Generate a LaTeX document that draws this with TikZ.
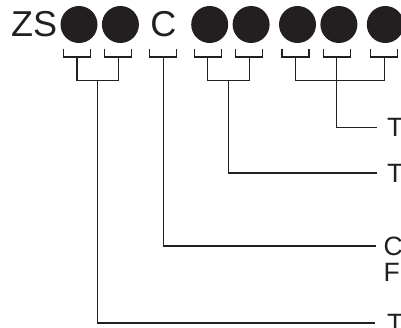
\documentclass[tikz,border=0pt]{standalone}
\usepackage{fontspec}
\setmainfont{Liberation Sans}
\usetikzlibrary{positioning, calc}
\definecolor{ink}{HTML}{231F20}

\begin{document}
\begin{tikzpicture}[
        x=1pt, y=-1pt,
        node distance=4pt,
        dot/.style={circle, fill=ink, inner sep=0pt, minimum size=37pt},
        head/.style={inner sep=0pt, text=ink, font=\fontsize{36}{40}\selectfont},
        lbl/.style={inner sep=0pt, text=ink, anchor=west, font=\fontsize{26.5}{30}\selectfont},
        wire/.style={draw=ink, line width=1.1pt},
        lead/.style={wire, shorten >=10pt}
    ]
        \useasboundingbox (0,0) rectangle (401,327);
        \clip (0,0) rectangle (401,327);
        % top row
        \node[head, anchor=base west] (zs) at (11,36.7) {ZS};
        \node[dot] (c1) at (79,24.5) {};
        \node[dot, right=of c1] (c2) {};
        \node[head, anchor=base] (cc) at (163.3,36.7) {C};
        \node[dot] (c3) at (209.7,24.5) {};
        \node[dot, right=of c3] (c4) {};
        \node[dot, right=9pt of c4] (c5) {};
        \node[dot, right=of c5] (c6) {};
        \node[dot, right=9pt of c6] (c7) {};
        % labels on the right
        \node[lbl] (t1) at (387,127.5) {T};
        \node[lbl] (t2) at (387,173) {T};
        \node[lbl] (tc) at (383.5,246) {C};
        \node[lbl, anchor=base west] (tf) at ([yshift=-26.6pt]tc.base west) {F};
        \node[lbl] (t3) at (387,323) {T};
        % brackets
        \coordinate (rail) at (0,57);
        \foreach \n/\d in {c1/-2, c2/-2, cc/0, c3/-2, c4/-2, c5/-2, c6/-2, c7/-1} {
            \coordinate (b\n) at ([xshift=\d pt]\n |- rail);
            \draw[wire] ([shift={(-13.5,-8.5)}]b\n) -- ([xshift=-13.5pt]b\n)
                -- ([xshift=13.5pt]b\n) -- ([shift={(13.5,-8.5)}]b\n);
        }
        \coordinate (g1) at ($(bc1)!.5!(bc2) + (0,23.7)$);
        \coordinate (g3) at ($(bc3)!.5!(bc4) + (0,23.7)$);
        \coordinate (g4) at ($(bc6) + (0,23.7)$);
        \draw[wire] (bc1) |- (g1) -| (bc2);
        \draw[wire] (bc3) |- (g3) -| (bc4);
        \draw[wire] (bc5) |- (g4) -| (bc7);
        % leads to the labels
        \draw[lead] (bc6) |- (t1.west);
        \draw[lead] (g3) |- (t2.west);
        \draw[lead, shorten >=7.5pt] (bcc) |- (tc.west);
        \draw[lead, shorten >=12pt] (g1) |- (t3.west);
\end{tikzpicture}
\end{document}
